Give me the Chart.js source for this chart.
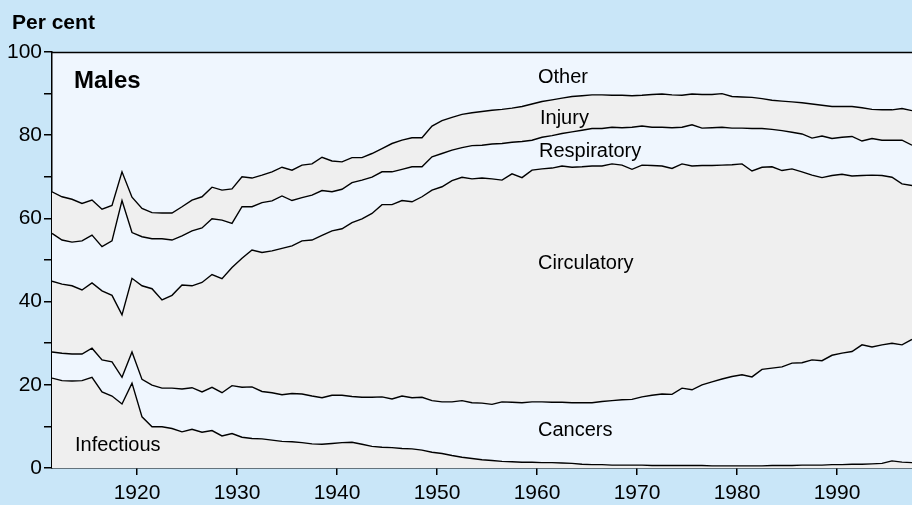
<!DOCTYPE html>
<html>
<head>
<meta charset="utf-8">
<script src="https://cdn.jsdelivr.net/npm/chart.js@4"></script>
<style>
  html, body { margin: 0; padding: 0; background: #c9e6f8; }
  canvas { display: block; }
</style>
</head>
<body>
<canvas id="c" width="912" height="505"></canvas>
<script>
// ---- Data (per cent of male deaths, cumulative band tops) ----
const years = [1911,1912,1913,1914,1915,1916,1917,1918,1919,1920,
  1921,1922,1923,1924,1925,1926,1927,1928,1929,1930,
  1931,1932,1933,1934,1935,1936,1937,1938,1939,1940,
  1941,1942,1943,1944,1945,1946,1947,1948,1949,1950,
  1951,1952,1953,1954,1955,1956,1957,1958,1959,1960,
  1961,1962,1963,1964,1965,1966,1967,1968,1969,1970,
  1971,1972,1973,1974,1975,1976,1977,1978,1979,1980,
  1981,1982,1983,1984,1985,1986,1987,1988,1989,1990,
  1991,1992,1993,1994,1995,1996,1997];

const infectiousTop = [21.6,21.0,20.9,21.0,21.8,18.3,17.3,15.4,20.4,12.3,
  9.9,9.9,9.5,8.7,9.3,8.6,9.0,7.7,8.3,7.4,
  7.1,7.0,6.7,6.4,6.3,6.1,5.8,5.7,5.9,6.1,
  6.2,5.7,5.2,5.0,4.9,4.7,4.6,4.3,3.8,3.5,
  3.0,2.6,2.3,2.0,1.8,1.6,1.5,1.4,1.4,1.3,
  1.3,1.2,1.1,0.9,0.8,0.8,0.7,0.7,0.7,0.7,
  0.6,0.6,0.6,0.6,0.6,0.6,0.5,0.5,0.5,0.5,
  0.5,0.5,0.6,0.6,0.6,0.7,0.7,0.7,0.8,0.8,
  0.9,0.9,1.0,1.1,1.7,1.4,1.3];

const cancersTop = [27.9,27.6,27.4,27.4,28.8,26.0,25.5,21.8,27.9,21.3,
  19.9,19.2,19.2,19.0,19.3,18.3,19.4,18.1,19.8,19.4,
  19.5,18.4,18.1,17.6,17.9,17.8,17.3,16.9,17.5,17.5,
  17.2,17.0,17.0,17.1,16.6,17.3,16.9,17.0,16.2,15.9,
  15.9,16.2,15.7,15.6,15.3,15.9,15.8,15.7,15.9,15.9,
  15.8,15.8,15.7,15.7,15.7,16.0,16.2,16.4,16.5,17.1,
  17.5,17.8,17.7,19.2,18.8,20.0,20.7,21.4,22.0,22.4,
  21.9,23.7,24.0,24.3,25.2,25.3,26.0,25.8,27.1,27.6,
  28.0,29.6,29.1,29.6,30.0,29.6,30.9];

const circulatoryTop = [44.9,44.2,43.8,42.8,44.5,42.6,41.5,36.8,45.6,43.8,
  43.1,40.4,41.5,44.0,43.8,44.6,46.5,45.5,48.2,50.4,
  52.4,51.8,52.2,52.8,53.4,54.6,54.8,55.9,57.0,57.5,
  59.0,59.9,61.2,63.3,63.3,64.3,64.0,65.2,66.8,67.6,
  69.1,69.9,69.5,69.7,69.5,69.2,70.7,69.8,71.6,71.9,
  72.1,72.6,72.3,72.4,72.6,72.6,73.1,72.8,71.8,72.8,
  72.7,72.6,72.0,73.1,72.6,72.7,72.7,72.8,72.9,73.1,
  71.4,72.3,72.4,71.5,71.9,71.2,70.4,69.8,70.3,70.6,
  70.2,70.3,70.4,70.3,69.9,68.3,67.9];

const respiratoryTop = [56.4,54.8,54.3,54.6,56.0,53.2,54.6,64.3,56.6,55.6,
  55.1,55.1,54.8,55.8,57.0,57.7,59.9,59.6,58.8,62.8,
  62.8,63.8,64.2,65.4,64.3,65.0,65.6,66.7,66.4,67.0,
  68.6,69.2,69.9,71.2,71.2,71.8,72.4,72.4,74.8,75.6,
  76.4,77.0,77.5,77.6,77.9,78.0,78.3,78.5,78.8,79.5,
  79.9,80.4,80.8,81.2,81.6,81.6,81.9,81.8,81.9,82.2,
  81.9,81.9,81.8,81.9,82.5,81.7,81.8,81.9,81.7,81.7,
  81.6,81.6,81.4,81.1,80.7,80.3,79.3,79.8,79.2,79.5,
  79.7,78.6,79.2,78.8,78.8,78.8,77.6];

const injuryTop = [66.4,65.2,64.6,63.6,64.4,62.2,63.1,71.2,65.1,62.4,
  61.4,61.3,61.3,62.8,64.4,65.2,67.5,66.8,67.1,70.0,
  69.7,70.4,71.2,72.3,71.6,72.8,73.1,74.7,73.8,73.6,
  74.6,74.6,75.6,76.8,78.0,78.8,79.4,79.4,82.2,83.5,
  84.3,85.0,85.4,85.7,86.0,86.2,86.5,86.9,87.5,88.1,
  88.5,88.9,89.3,89.5,89.7,89.7,89.6,89.6,89.5,89.6,
  89.8,89.9,89.7,89.6,89.9,89.8,89.8,90.0,89.3,89.2,
  89.1,88.8,88.4,88.2,88.0,87.8,87.5,87.2,86.9,86.9,
  86.9,86.6,86.2,86.1,86.1,86.4,85.9];

const xTickLabels = [1920,1930,1940,1950,1960,1970,1980,1990];
const yTickLabels = [0,20,40,60,80,100];
const yMinorTicks = [0,10,20,30,40,50,60,70,80,90,100];

// band labels anchored in data coordinates
const bandLabels = [
  { text: 'Other',       year: 1960.1, value: 92.5 },
  { text: 'Injury',      year: 1960.3, value: 82.7 },
  { text: 'Respiratory', year: 1960.2, value: 74.8 },
  { text: 'Circulatory', year: 1960.1, value: 47.8 },
  { text: 'Cancers',     year: 1960.1, value: 7.8 },
  { text: 'Infectious',  year: 1913.8, value: 4.2 }
];

// ---- Styles ----
const GREY = '#efefef';
const LIGHT = '#eff6fe';
const FONT = '"Liberation Sans", Arial, sans-serif';

// each year's value is plotted at mid-year
const toPoints = arr => arr.map((v, i) => ({ x: years[i] + 0.5, y: v }));

const series = [
  { data: infectiousTop, fill: 'origin', color: GREY },
  { data: cancersTop, fill: '-1', color: LIGHT },
  { data: circulatoryTop, fill: '-1', color: GREY },
  { data: respiratoryTop, fill: '-1', color: LIGHT },
  { data: injuryTop, fill: '-1', color: GREY }
];

const plotBg = {
  id: 'plotBg',
  beforeDraw(chart) {
    const { ctx, chartArea: a } = chart;
    ctx.save();
    ctx.fillStyle = LIGHT;
    ctx.fillRect(a.left, a.top, a.right - a.left, a.bottom - a.top);
    ctx.restore();
  },
  afterDraw(chart) {
    const { ctx, chartArea: a, scales } = chart;
    ctx.save();
    // top frame line
    ctx.strokeStyle = '#000';
    ctx.lineWidth = 1.5;
    ctx.beginPath();
    ctx.moveTo(a.left, a.top + 0.5);
    ctx.lineTo(a.right, a.top + 0.5);
    ctx.stroke();
    // texts
    ctx.fillStyle = '#000';
    ctx.textBaseline = 'alphabetic';
    ctx.textAlign = 'left';
    ctx.font = 'bold 21px ' + FONT;
    ctx.fillText('Per cent', 12, 29);
    ctx.font = 'bold 24px ' + FONT;
    ctx.fillText('Males', scales.x.getPixelForValue(1913.7), scales.y.getPixelForValue(91.3));
    ctx.font = '20px ' + FONT;
    bandLabels.forEach(l => {
      ctx.fillText(l.text, scales.x.getPixelForValue(l.year), scales.y.getPixelForValue(l.value));
    });
    ctx.restore();
  }
};

new Chart(document.getElementById('c'), {
  type: 'line',
  data: {
    datasets: series.map(s => ({
      data: toPoints(s.data),
      fill: s.fill,
      backgroundColor: s.color,
      borderColor: '#000',
      borderWidth: 1.4,
      pointRadius: 0,
      tension: 0
    }))
  },
  plugins: [plotBg],
  options: {
    responsive: false,
    animation: false,
    devicePixelRatio: 1,
    layout: { padding: { top: 52, left: 0, right: 0, bottom: 0 } },
    plugins: {
      legend: { display: false },
      tooltip: { enabled: false },
      filler: { drawTime: 'beforeDatasetsDraw' }
    },
    scales: {
      x: {
        type: 'linear',
        min: 1911.5,
        max: 1997.5,
        afterBuildTicks: s => { s.ticks = xTickLabels.map(v => ({ value: v })); },
        afterFit: s => { s.height = 37; },
        grid: { drawOnChartArea: false, drawTicks: true, tickLength: 7, color: '#000', lineWidth: 1.5 },
        border: { display: true, color: '#000', width: 1.5 },
        ticks: {
          autoSkip: false, maxRotation: 0, padding: 6, color: '#000',
          font: { family: FONT, size: 21 },
          callback: v => String(v)
        }
      },
      y: {
        type: 'linear',
        min: 0,
        max: 100,
        afterBuildTicks: s => { s.ticks = yMinorTicks.map(v => ({ value: v })); },
        afterFit: s => { s.width = 52; },
        grid: { drawOnChartArea: false, drawTicks: true, tickLength: 8, color: '#000', lineWidth: 1.5 },
        border: { display: true, color: '#000', width: 1.5 },
        ticks: {
          autoSkip: false, padding: 2, color: '#000',
          font: { family: FONT, size: 21 },
          callback: v => yTickLabels.includes(v) ? String(v) : ''
        }
      }
    }
  }
});
</script>
</body>
</html>
